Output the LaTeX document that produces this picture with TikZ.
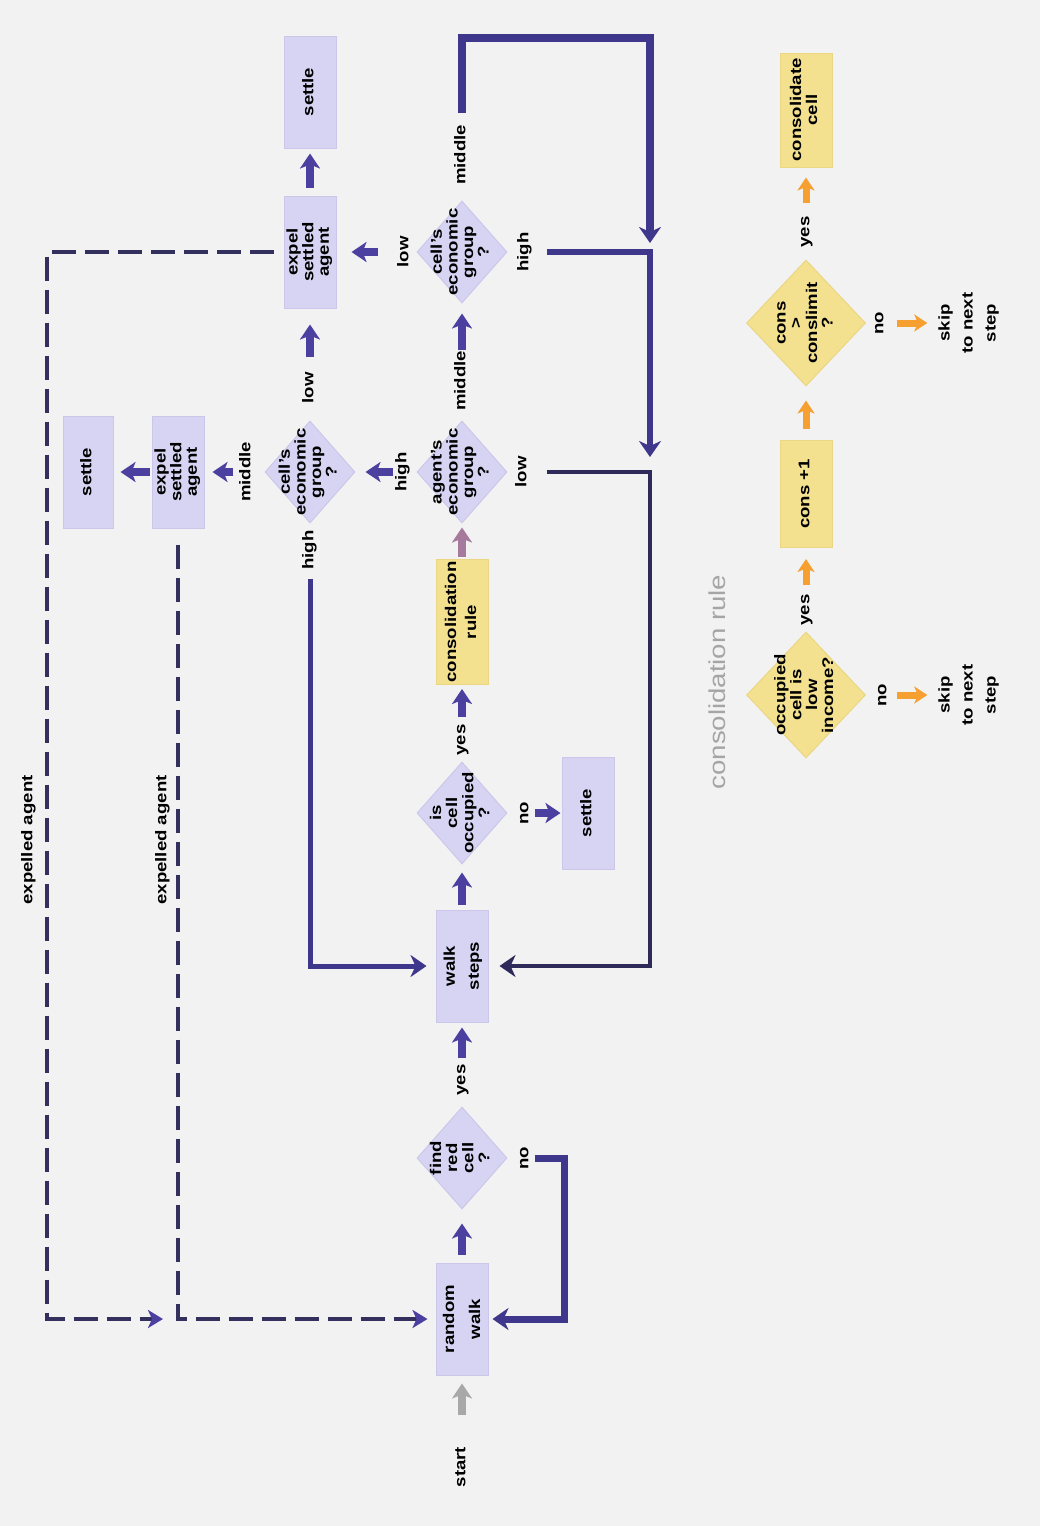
\documentclass[tikz,border=0pt]{standalone}
\usepackage{fontspec}
\setmainfont[FakeStretch=1.2]{Liberation Sans}
\usetikzlibrary{arrows.meta,shapes.geometric,calc}
\definecolor{bg}{HTML}{F2F2F2}
\definecolor{boxp}{HTML}{D7D3F2}
\definecolor{boxpb}{HTML}{CCC7EA}
\definecolor{boxy}{HTML}{F3E18F}
\definecolor{boxyb}{HTML}{EBD683}
\definecolor{arrp}{HTML}{4B3FA0}
\definecolor{linep}{HTML}{3F378C}
\definecolor{lined}{HTML}{2E2B5A}
\definecolor{dashc}{HTML}{34305E}
\definecolor{arro}{HTML}{F5A030}
\definecolor{arrg}{HTML}{A8A8A8}
\definecolor{arrm}{HTML}{A67A9C}
\definecolor{titleg}{HTML}{A5A5A5}
\newcommand{\rottext}[2][17]{\rotatebox{90}{\fontsize{15.5}{#1}\selectfont\bfseries\begin{tabular}{@{}c@{}}#2\end{tabular}}}
\begin{document}
\begin{tikzpicture}[x=1pt,y=-1pt,
 pbox/.style={rectangle,fill=boxp,draw=boxpb,line width=1pt,minimum width=52pt,minimum height=112pt,inner sep=0pt},
 ybox/.style={pbox,fill=boxy,draw=boxyb},
 pdia/.style={diamond,fill=boxp,draw=boxpb,line width=1pt,minimum width=90pt,minimum height=102pt,inner sep=0pt},
 ydia/.style={pdia,fill=boxy,draw=boxyb,minimum width=119pt,minimum height=126pt},
 lbl/.style={inner sep=1pt,text=black},
 fat/.style={draw=arrp,line width=8pt,-{Stealth[length=15pt,width=20pt,inset=4pt]}},
 ofat/.style={draw=arro,line width=7pt,-{Stealth[length=13pt,width=17pt,inset=3.5pt]}},
 big/.style={draw=linep,line width=7pt,-{Stealth[length=16pt,width=22pt,inset=5pt]}},
 dsh/.style={draw=dashc,line width=4pt,dash pattern=on 24pt off 9pt,-{Stealth[length=15pt,width=18pt,inset=4pt,color=arrp]}}
]
\fill[bg] (0,0) rectangle (1040,1526);
\useasboundingbox (0,0) rectangle (1040,1526);

% boxes
\node[pbox] (rw) at (462,1319) {\rottext[26]{random\\walk}};
\node[pbox] (ws) at (462,966) {\rottext[24]{walk\\steps}};
\node[pbox] (st1) at (588,813) {\rottext{settle}};
\node[ybox,minimum height=125pt] (cr) at (462,622) {\rottext[20]{consolidation\\rule}};
\node[pbox] (ex1) at (310,252) {\rottext[15.5]{expel\\settled\\agent}};
\node[pbox] (st2) at (310,92) {\rottext{settle}};
\node[pbox] (ex2) at (178,472) {\rottext[15.5]{expel\\settled\\agent}};
\node[pbox,minimum width=50pt] (st3) at (88,472) {\rottext{settle}};

% diamonds
\node[pdia] (frc) at (462,1158) {};
\node[lbl] (frcT) at (frc) {\rottext[16]{find\\red\\cell\\?}};
\node[pdia] (ico) at (462,813) {};
\node[lbl] (icoT) at (ico) {\rottext[16]{is\\cell\\occupied\\?}};
\node[pdia] (aeg) at (462,472) {};
\node[lbl] (aegT) at (aeg) {\rottext[15.5]{agent's\\economic\\group\\?}};
\node[pdia] (ceg1) at (310,472) {};
\node[lbl] (ceg1T) at (ceg1) {\rottext[15.5]{cell's\\economic\\group\\?}};
\node[pdia] (ceg2) at (462,252) {};
\node[lbl] (ceg2T) at (ceg2) {\rottext[15.5]{cell's\\economic\\group\\?}};

% consolidation rule part
\node[ydia] (od1) at (806,695) {};
\node[lbl] (od1T) at (od1) {\rottext[15.5]{occupied\\cell is\\low\\income?}};
\node[ybox,minimum height=107pt] (oc1) at (806,494) {\rottext{cons +1}};
\node[ydia] (od2) at (806,323) {};
\node[lbl] (od2T) at (od2) {\rottext[15.5]{cons\\>\\conslimit\\?}};
\node[ybox,minimum height=114pt] (oc2) at (806,110) {\rottext[16]{consolidate\\cell}};
\node[lbl] (sk1) at (968,695) {\rottext[23]{skip\\to next\\step}};
\node[lbl] (sk2) at (968,323) {\rottext[23]{skip\\to next\\step}};
\node[lbl] (ttl) at (717,682) {\rotatebox{90}{\fontsize{23}{26}\selectfont\color{titleg}consolidation rule}};

% labels
\node[lbl] (start) at (462,1467) {\rottext{start}};
\node[lbl] (yes1) at (462,1080) {\rottext{yes}};
\node[lbl] (no1) at (525,1158) {\rottext{no}};
\node[lbl] (yes2) at (462,740) {\rottext{yes}};
\node[lbl] (no2) at (525,813) {\rottext{no}};
\node[lbl] (mid1) at (462,381) {\rottext{middle}};
\node[lbl] (hi1) at (403,472) {\rottext{high}};
\node[lbl] (lo1) at (523,472) {\rottext{low}};
\node[lbl] (lo2) at (310,388) {\rottext{low}};
\node[lbl] (hi2) at (310,550) {\rottext{high}};
\node[lbl] (mid2) at (247,472) {\rottext{middle}};
\node[lbl] (mid3) at (462,155) {\rottext{middle}};
\node[lbl] (lo3) at (405,252) {\rottext{low}};
\node[lbl] (hi3) at (525,252) {\rottext{high}};
\node[lbl] (yes3) at (806,610) {\rottext{yes}};
\node[lbl] (no3) at (883,695) {\rottext{no}};
\node[lbl] (yes4) at (806,232) {\rottext{yes}};
\node[lbl] (no4) at (880,323) {\rottext{no}};
\node[lbl] (exl1) at (29,840) {\rottext{expelled agent}};
\node[lbl] (exl2) at (163,840) {\rottext{expelled agent}};

\coordinate (R) at (650,38);
\coordinate (L) at (47,252);

% fat arrows
\draw[fat,draw=arrg,shorten <=31pt,shorten >=8pt] (start.north) -- (rw.south);
\draw[fat,shorten <=8pt,shorten >=14pt] (rw.north) -- (frc.south);
\draw[fat,shorten <=5pt,shorten >=5pt] (yes1.north) -- (ws.south);
\draw[fat,shorten <=5pt,shorten >=8pt] (ws.north) -- (ico.south);
\draw[fat,shorten <=6pt,shorten >=4pt] (yes2.north) -- (cr.south);
\draw[fat,shorten <=0pt,shorten >=1pt] (no2.east) -- (st1.west);
\draw[fat,draw=arrm,shorten <=2pt,shorten >=4pt] (cr.north) -- (aeg.south);
\draw[fat,shorten <=0pt,shorten >=10pt] (mid1.north) -- (ceg2.south);
\draw[fat,shorten <=0pt,shorten >=10pt] (hi1.west) -- (ceg1.east);
\draw[fat,shorten <=14pt,shorten >=16pt] (lo2.north) -- (ex1.south);
\draw[fat,shorten <=4pt,shorten >=8pt] (mid2.west) -- (ex2.east);
\draw[fat,shorten <=2pt,shorten >=7pt] (ex2.west) -- (st3.east);
\draw[fat,shorten <=17pt,shorten >=15pt] (lo3.west) -- (ex1.east);
\draw[fat,shorten <=8pt,shorten >=5pt] (ex1.north) -- (st2.south);

\draw[ofat,shorten <=8pt,shorten >=11pt] (yes3.north) -- (oc1.south);
\draw[ofat,shorten <=4pt,shorten >=5pt] (no3.east) -- (sk1.west);
\draw[ofat,shorten <=11pt,shorten >=14pt] (oc1.north) -- (od2.south);
\draw[ofat,shorten <=12pt,shorten >=10pt] (yes4.north) -- (oc2.south);
\draw[ofat,shorten <=7pt,shorten >=5pt] (no4.east) -- (sk2.west);

% thick loop lines
\draw[big,shorten >=4pt] (no1.east) -- ++(30,0) |- (rw.east);
\draw[big,line width=5pt,shorten <=8pt,shorten >=9pt] (hi2.south) |- (ws.west);
\draw[big,line width=7.5pt,shorten <=11pt,shorten >=9pt] (mid3.north) |- (R) -- (R |- hi3.east);
\draw[big,line width=5.5pt,shorten <=12pt,shorten >=15pt] (hi3.east) -- (hi3.east -| R) -- (R |- lo1.east);
\draw[big,draw=lined,line width=4pt,shorten <=14pt,shorten >=11pt] (lo1.east) -- (lo1.east -| R) |- (ws.east);

% dashed expulsion lines
\draw[dsh,shorten <=10pt,shorten >=15pt] (ex1.west) -- (L) |- (ex2.south |- rw.west);
\draw[dsh,shorten <=16pt,shorten >=8pt] (ex2.south) -- (ex2.south |- rw.west) -- (rw.west);
\end{tikzpicture}
\end{document}
